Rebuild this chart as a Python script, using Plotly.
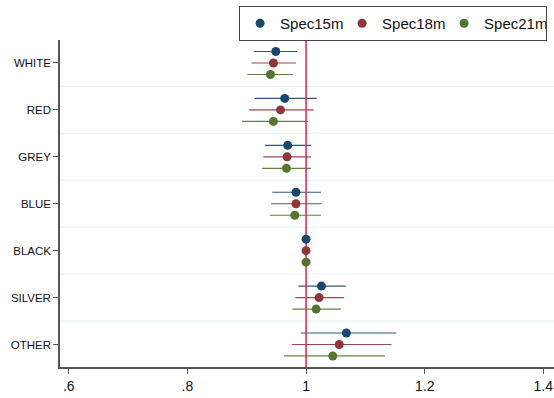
import plotly.graph_objects as go

categories = ["WHITE", "RED", "GREY", "BLUE", "BLACK", "SILVER", "OTHER"]
series = ["Spec15m", "Spec18m", "Spec21m"]
colors = ["#1a476f", "#90353b", "#55752f"]

est = {
    "Spec15m": [0.949, 0.964, 0.969, 0.983, 1.0, 1.026, 1.068],
    "Spec18m": [0.945, 0.957, 0.968, 0.983, 1.0, 1.022, 1.056],
    "Spec21m": [0.940, 0.945, 0.967, 0.981, 1.0, 1.017, 1.045],
}
lo = {
    "Spec15m": [0.912, 0.913, 0.931, 0.943, None, 0.987, 0.991],
    "Spec18m": [0.908, 0.904, 0.928, 0.941, None, 0.982, 0.976],
    "Spec21m": [0.901, 0.892, 0.926, 0.939, None, 0.977, 0.963],
}
hi = {
    "Spec15m": [0.985, 1.018, 1.008, 1.025, None, 1.067, 1.152],
    "Spec18m": [0.983, 1.013, 1.008, 1.026, None, 1.064, 1.144],
    "Spec21m": [0.978, 1.003, 1.008, 1.025, None, 1.059, 1.133],
}
offsets = [-0.245, 0.0, 0.245]
xticks = [0.6, 0.8, 1.0, 1.2, 1.4]
xticklabels = [".6", ".8", "1", "1.2", "1.4"]

fig = go.Figure()

# CI lines
for s, c, off in zip(series, colors, offsets):
    xs, ys = [], []
    for i in range(len(categories)):
        if lo[s][i] is None:
            continue
        xs += [lo[s][i], hi[s][i], None]
        ys += [i + off, i + off, None]
    fig.add_trace(go.Scatter(x=xs, y=ys, mode="lines", line=dict(color=c, width=1.2),
                             opacity=0.9, showlegend=False, hoverinfo="skip"))

# reference line at 1
fig.add_trace(go.Scatter(x=[1, 1], y=[-0.6, 6.6], mode="lines",
                         line=dict(color="#d9315a", width=1.6),
                         showlegend=False, hoverinfo="skip"))

# point estimates
for s, c, off in zip(series, colors, offsets):
    fig.add_trace(go.Scatter(
        x=est[s], y=[i + off for i in range(len(categories))], mode="markers",
        marker=dict(color=c, size=9, line=dict(width=0)), name=s))

shapes = []
for i in range(len(categories) - 1):
    shapes.append(dict(type="line", xref="paper", x0=0, x1=1, yref="y", y0=i + 0.5, y1=i + 0.5,
                       line=dict(color="#e8f0f2", width=1), layer="below"))

fig.update_layout(
    width=554, height=398, autosize=False,
    margin=dict(l=60, r=0, t=40, b=31),
    plot_bgcolor="white", paper_bgcolor="white",
    font=dict(family="Liberation Sans, Arial, sans-serif", color="#111111"),
    shapes=shapes,
    legend=dict(orientation="h", x=0.986, xanchor="right", y=1.104, yanchor="top",
                bordercolor="#444444", borderwidth=1, font=dict(size=15),
                itemwidth=30, bgcolor="white", tracegroupgap=0,
                entrywidth=57, entrywidthmode="pixels"),
    xaxis=dict(range=[0.5852, 1.418], tickvals=xticks, ticktext=xticklabels,
               showgrid=False, zeroline=False, showline=True, linecolor="#555555", linewidth=1.5,
               ticks="outside", ticklen=5, tickcolor="#555555", tickwidth=1,
               tickfont=dict(size=14)),
    yaxis=dict(range=[6.48, -0.49], tickvals=list(range(len(categories))), ticktext=categories,
               showgrid=False, zeroline=False, showline=True, linecolor="#555555", linewidth=1.5,
               ticks="outside", ticklen=5, tickcolor="#555555", tickwidth=1,
               tickfont=dict(size=11.5)),
)

fig.write_html("out.html", config={"displayModeBar": False},
               post_script="document.body.style.margin='0';")
